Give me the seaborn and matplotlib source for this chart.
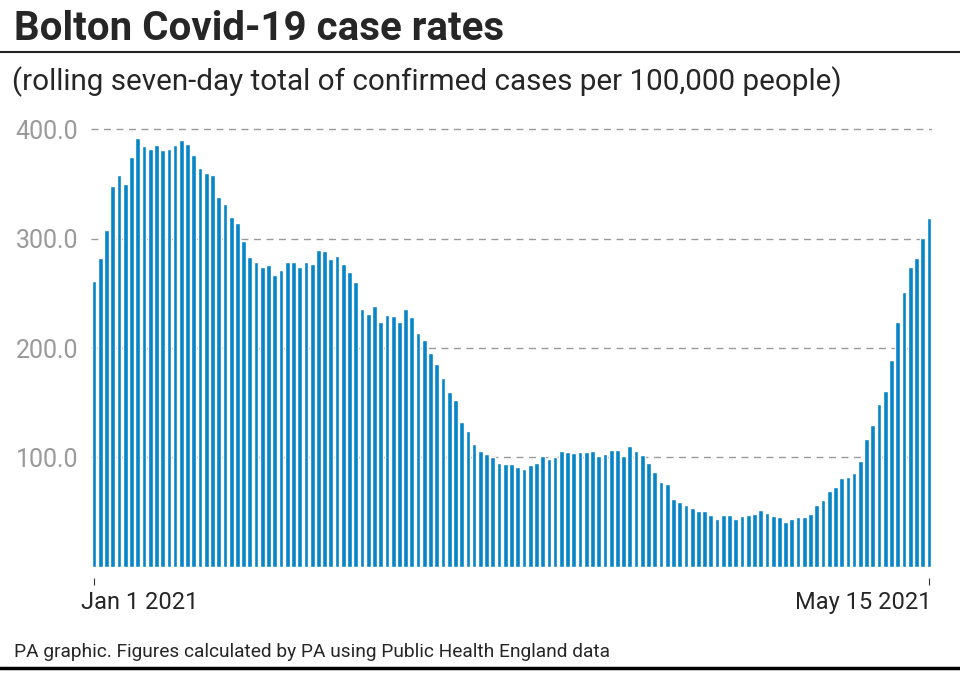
import pandas as pd
import matplotlib
matplotlib.use("Agg")
import matplotlib.pyplot as plt
import seaborn as sns
from matplotlib.lines import Line2D
from matplotlib.transforms import ScaledTranslation

# Rolling seven-day rate per 100,000, Bolton, 1 Jan - 15 May 2021
start_date = "2021-01-01"
end_date = "2021-05-15"
case_rates = [
    261, 282, 308, 348, 358, 350, 375, 392, 385, 382,
    386, 381, 382, 386, 390, 387, 377, 365, 360, 358,
    338, 332, 320, 314, 298, 283, 279, 274, 276, 267,
    271, 279, 279, 274, 279, 277, 290, 289, 281, 284,
    277, 270, 260, 236, 231, 238, 224, 230, 229, 224,
    236, 228, 214, 207, 195, 185, 173, 160, 152, 132,
    124, 112, 106, 103, 100, 95, 94, 94, 91, 89,
    93, 95, 101, 98, 100, 106, 105, 104, 105, 105,
    106, 101, 103, 107, 107, 101, 110, 106, 102, 95,
    87, 77, 76, 62, 59, 56, 54, 51, 51, 47,
    44, 47, 47, 44, 46, 47, 48, 52, 49, 46,
    45, 41, 44, 45, 45, 48, 56, 61, 69, 73,
    81, 82, 86, 97, 117, 130, 149, 161, 189, 224,
    251, 274, 282, 301, 319,
]
y_ticks = [100, 200, 300, 400]
x_tick_labels = ["Jan 1 2021", "May 15 2021"]

title = "Bolton Covid-19 case rates"
subtitle = "(rolling seven-day total of confirmed cases per 100,000 people)"
source = "PA graphic. Figures calculated by PA using Public Health England data"

BAR_BLUE = "#0785C6"
GRID_GREY = "#9a9a9a"

dates = pd.date_range(start_date, end_date, freq="D")
df = pd.DataFrame({"date": dates.strftime("%Y-%m-%d"), "rate": case_rates})

sns.set_style("white")
plt.rcParams["font.family"] = ["Roboto", "DejaVu Sans"]

fig = plt.figure(figsize=(9.6, 6.74), dpi=100)
W, H = 960, 674
ax = fig.add_axes([91 / W, 1 - 566.6 / H, 841 / W, 448.1 / H])

sns.barplot(data=df, x="date", y="rate", color=BAR_BLUE, saturation=1,
            width=0.76, ax=ax, zorder=3)

ax.set_ylim(0, 410)
ax.set_xlim(-0.5, len(df) - 0.5)
ax.set_yticks(y_ticks)
ax.set_yticklabels([f"{t:.1f}" for t in y_ticks], color=GRID_GREY, fontsize=18)
ax.tick_params(axis="y", length=0, pad=9)
ax.yaxis.grid(True, color=GRID_GREY, linestyle=(0, (5, 4)), linewidth=1, zorder=0)
ax.xaxis.grid(False)
for side in ["top", "right", "left"]:
    ax.spines[side].set_visible(False)
ax.spines["bottom"].set_position(("outward", 8))
ax.spines["bottom"].set_visible(False)

first, last = 0, len(df) - 1
ax.set_xticks([first, last])
ax.set_xticklabels([])
ax.tick_params(axis="x", bottom=True, length=5, width=0.8, color="#333333",
               direction="out")
ax.set_xlabel("")
ax.set_ylabel("")

# x labels under the end ticks
off = ScaledTranslation(0, -36 / 100, fig.dpi_scale_trans)
ax.text(first, 0, x_tick_labels[0], transform=ax.get_xaxis_transform() + off
        + ScaledTranslation(-13 / 100, 0, fig.dpi_scale_trans),
        ha="left", va="center", fontsize=17)
ax.text(last, 0, x_tick_labels[1], transform=ax.get_xaxis_transform() + off
        + ScaledTranslation(3 / 100, 0, fig.dpi_scale_trans),
        ha="right", va="center", fontsize=17)

fig.text(14 / W, 1 - 40 / H, title, fontsize=29, fontweight="bold",
         ha="left", va="baseline")
fig.add_artist(Line2D([0, 1], [1 - 52 / H] * 2, color="#222222", linewidth=1.5))
fig.text(12 / W, 1 - 90 / H, subtitle, fontsize=21.3, ha="left", va="baseline")
fig.text(14 / W, 1 - 657 / H, source, fontsize=13.8, ha="left", va="baseline")
fig.add_artist(Line2D([0, 1], [1 - 668 / H] * 2, color="#000000", linewidth=2.5))

fig.savefig("out.png", dpi=100)
